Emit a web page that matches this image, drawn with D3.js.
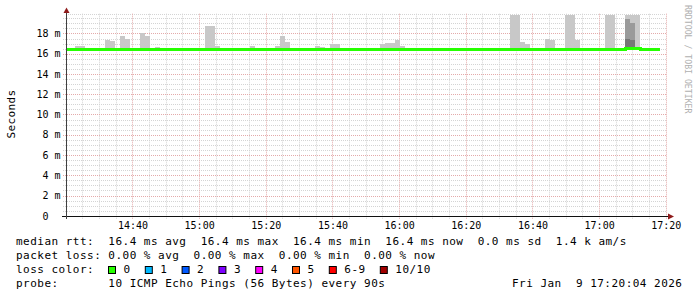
<!DOCTYPE html>
<html><head><meta charset="utf-8">
<script src="https://cdn.jsdelivr.net/npm/d3@7"></script>
<style>
html,body{margin:0;padding:0;background:#fff;}
svg{display:block;}
text{font-family:"DejaVu Sans Mono",monospace;white-space:pre;}
</style></head><body>
<svg id="chart" width="697" height="297"></svg>
<script>
// ---- data ----
const startTime = new Date(2026, 0, 9, 14, 20, 4);
const endTime = new Date(2026, 0, 9, 17, 20, 4);
const firstBin = new Date(2026, 0, 9, 14, 19, 46);
const stepSeconds = 90;

// median rtt per 90 s step (ms)
const median = [
  16.45,16.45,16.45,16.45,16.38,16.38,16.45,16.45,16.45,16.45,
  16.45,16.45,16.45,16.45,16.45,16.45,16.45,16.45,16.45,16.45,
  16.45,16.45,16.45,16.45,16.45,16.45,16.45,16.45,16.45,16.45,
  16.45,16.45,16.45,16.45,16.45,16.45,16.45,16.45,16.45,16.45,
  16.45,16.45,16.45,16.45,16.45,16.38,16.45,16.45,16.45,16.45,
  16.45,16.45,16.38,16.45,16.45,16.45,16.45,16.38,16.38,16.45,
  16.45,16.45,16.45,16.45,16.45,16.45,16.45,16.45,16.45,16.45,
  16.45,16.45,16.45,16.45,16.45,16.45,16.45,16.45,16.45,16.38,
  16.45,16.45,16.45,16.45,16.45,16.45,16.45,16.45,16.45,16.45,
  16.45,16.45,16.45,16.45,16.40,16.40,16.40,16.45,16.45,16.45,
  16.45,16.45,16.45,16.45,16.45,16.45,16.45,16.45,16.45,16.45,
  16.40,16.40,16.50,16.50,16.50,16.45,16.45,16.45,16.45
];
// highest ping per step (ms) - outer smoke
const pingMax = [
  16.5,16.5,16.75,16.75,16.5,16.5,16.55,16.55,17.35,17.25,
  16.6,17.75,17.45,16.5,16.5,18.05,17.75,16.5,16.7,16.55,
  16.5,16.5,16.5,16.5,16.6,16.5,16.5,16.5,18.75,18.75,
  16.8,16.5,16.5,16.5,16.5,16.5,16.55,16.8,16.6,16.5,
  16.5,16.5,16.8,17.7,17.2,16.5,16.5,16.5,16.5,16.5,
  16.8,16.7,16.5,16.95,16.95,16.6,16.5,16.5,16.5,16.5,
  16.5,16.5,16.5,16.95,17.05,17.05,17.35,16.8,16.5,16.5,
  16.5,16.5,16.6,16.6,16.55,16.6,16.5,16.5,16.5,16.5,
  16.5,16.5,16.5,16.5,16.5,16.5,16.5,16.5,16.5,19.8,
  19.8,17.2,17.0,16.5,16.5,16.5,17.5,17.4,16.5,16.5,
  19.8,19.8,17.4,16.5,16.5,16.5,16.5,16.5,19.8,19.8,
  16.5,16.5,19.8,19.8,19.8,16.5,16.5,16.5,16.5
];
// inner smoke bands (second and third highest pings) where visible
const innerBins = [112, 113];
const pingSecond = [19.4, 19.05];
const pingThird = [17.45, 17.35];

const yMajorTicks = [0, 2, 4, 6, 8, 10, 12, 14, 16, 18];
const lossLabels = ["0", "1", "2", "3", "4", "5", "6-9", "10/10"];
const lossColors = ["#26ff00", "#00b8ff", "#0059ff", "#7e00ff", "#ff00ff", "#ff5500", "#ff0000", "#a10000"];
const legendRtt = "median rtt:  16.4 ms avg  16.4 ms max  16.4 ms min  16.4 ms now  0.0 ms sd  1.4 k am/s";
const legendLoss = "packet loss: 0.00 % avg  0.00 % max  0.00 % min  0.00 % now";
const legendColorTitle = "loss color:";
const legendProbe = "probe:       10 ICMP Echo Pings (56 Bytes) every 90s";
const stampText = "Fri Jan  9 17:20:04 2026";
const yTitle = "Seconds";
const watermark = "RRDTOOL / TOBI OETIKER";

// ---- drawing ----
const svg = d3.select("#chart");
svg.append("rect").attr("width", 697).attr("height", 297).attr("fill", "#fff");

const x = d3.scaleTime().domain([startTime, endTime]).range([66, 666]);
const y = d3.scaleLinear().domain([0, 19.95]).range([215.8, 13.7]);
const binTime = k => new Date(firstBin.getTime() + k * stepSeconds * 1000);

const pLeft = 66, pRight = 666, pTop = y.range()[1], pBottom = 216;
const px = v => Math.round(v) + 0.5;
const minorColor = "#d4d4d4", majorColor = "#e4aaaa";

// grid
const grid = svg.append("g");
const hMinor = d3.range(0.5, 19.95, 0.5).filter(v => Math.abs(v / 2 - Math.round(v / 2)) > 1e-6);
grid.selectAll(".hmin").data(hMinor).enter().append("line")
  .attr("x1", pLeft - 3).attr("x2", pRight).attr("y1", d => px(y(d))).attr("y2", d => px(y(d)))
  .attr("stroke", minorColor).attr("stroke-dasharray", "1,1");
grid.append("line").attr("x1", pLeft).attr("x2", pRight).attr("y1", px(pTop)).attr("y2", px(pTop))
  .attr("stroke", minorColor).attr("stroke-dasharray", "1,1");
const vAll = d3.timeMinute.every(5).range(startTime, endTime);
const vMinor = vAll.filter(d => d.getMinutes() % 20 !== 0);
const vMajor = vAll.filter(d => d.getMinutes() % 20 === 0);
grid.selectAll(".vmin").data(vMinor).enter().append("line")
  .attr("x1", d => px(x(d))).attr("x2", d => px(x(d))).attr("y1", pTop).attr("y2", pBottom + 3)
  .attr("stroke", minorColor).attr("stroke-dasharray", "1,1");
grid.selectAll(".hmaj").data(yMajorTicks.filter(v => v > 0)).enter().append("line")
  .attr("x1", pLeft - 3).attr("x2", pRight).attr("y1", d => px(y(d))).attr("y2", d => px(y(d)))
  .attr("stroke", majorColor).attr("stroke-dasharray", "1,1");
grid.selectAll(".vmaj").data(vMajor).enter().append("line")
  .attr("x1", d => px(x(d))).attr("x2", d => px(x(d))).attr("y1", pTop).attr("y2", pBottom + 3)
  .attr("stroke", majorColor).attr("stroke-dasharray", "1,1");

// clip
svg.append("clipPath").attr("id", "plotclip").append("rect")
  .attr("x", pLeft + 0.5).attr("y", pTop).attr("width", pRight - pLeft).attr("height", pBottom - pTop);
const plot = svg.append("g").attr("clip-path", "url(#plotclip)");

// smoke (outer)
plot.selectAll(".smoke").data(pingMax).enter().append("rect")
  .attr("x", (d, k) => x(binTime(k)))
  .attr("width", (d, k) => x(binTime(k + 1)) - x(binTime(k)))
  .attr("y", d => y(d))
  .attr("height", (d, k) => Math.max(0, y(median[k]) - y(d)))
  .attr("fill", "#c8c8c8").attr("shape-rendering", "crispEdges");
// inner smoke bands
plot.selectAll(".smoke2").data(innerBins).enter().append("rect")
  .attr("x", k => x(binTime(k)))
  .attr("width", k => x(binTime(k + 1)) - x(binTime(k)))
  .attr("y", (k, i) => y(pingSecond[i]))
  .attr("height", (k, i) => y(pingThird[i]) - y(pingSecond[i]))
  .attr("fill", "#9a9a9a").attr("shape-rendering", "crispEdges");
plot.selectAll(".smoke3").data(innerBins).enter().append("rect")
  .attr("x", k => x(binTime(k)))
  .attr("width", k => x(binTime(k + 1)) - x(binTime(k)))
  .attr("y", (k, i) => y(pingThird[i]))
  .attr("height", (k, i) => y(median[k]) - y(pingThird[i]))
  .attr("fill", "#767676").attr("shape-rendering", "crispEdges");

// median line
const medPts = median.map((v, k) => [binTime(k), v]);
medPts.push([binTime(median.length), median[median.length - 1]]);
plot.append("path").datum(medPts)
  .attr("d", d3.line().x(d => x(d[0])).y(d => y(d[1])).curve(d3.curveStepAfter))
  .attr("fill", "none").attr("stroke", lossColors[0]).attr("stroke-width", 3)
  .attr("shape-rendering", "crispEdges");

// axes labels
const xAxis = svg.append("g").attr("transform", `translate(0,${pBottom})`)
  .call(d3.axisBottom(x).ticks(d3.timeMinute.every(20)).tickFormat(d3.timeFormat("%H:%M")).tickSize(0));
xAxis.select(".domain").remove();
xAxis.selectAll("text").attr("dy", null).attr("y", 12.5)
  .attr("font-family", "DejaVu Sans Mono").attr("font-size", 10).attr("fill", "#000");

const yAxis = svg.append("g").attr("transform", `translate(${pLeft},0)`)
  .call(d3.axisLeft(y).tickValues(yMajorTicks).tickFormat(v => v === 0 ? "0  " : v + " m").tickSize(0).tickPadding(5.5));
yAxis.select(".domain").remove();
yAxis.selectAll("text").attr("font-family", "DejaVu Sans Mono").attr("font-size", 10).attr("fill", "#000");

// axis lines + arrows
const axisColor = "#404040", arrowColor = "#8f1b1b";
svg.append("line").attr("x1", pLeft - 4).attr("x2", 669).attr("y1", pBottom + 0.5).attr("y2", pBottom + 0.5)
  .attr("stroke", "#111");
svg.append("line").attr("x1", pLeft + 0.5).attr("x2", pLeft + 0.5).attr("y1", pBottom + 3).attr("y2", 12)
  .attr("stroke", axisColor);
svg.append("path").attr("d", `M${pLeft - 2.5},13 L${pLeft + 0.5},7.5 L${pLeft + 3.5},13 Z`).attr("fill", arrowColor);
svg.append("path").attr("d", `M668,${pBottom - 2.5} L674,${pBottom + 0.5} L668,${pBottom + 3.5} Z`).attr("fill", arrowColor);

// titles
svg.append("text").attr("transform", "translate(14.5,114) rotate(-90)")
  .attr("text-anchor", "middle").attr("font-size", 11).attr("letter-spacing", 0.4).text(yTitle);
svg.append("text").attr("transform", "translate(685,5) rotate(90)")
  .attr("font-size", 8.2).attr("fill", "#b0b0b0").text(watermark);

// legend
const charW = 7.1;
const legend = svg.append("g").attr("font-size", 11).attr("letter-spacing", 0.48).attr("fill", "#000");
legend.append("text").attr("x", 16).attr("y", 244.5).text(legendRtt);
legend.append("text").attr("x", 16).attr("y", 258.7).text(legendLoss);
legend.append("text").attr("x", 16).attr("y", 272.8).text(legendColorTitle);
legend.append("text").attr("x", 16).attr("y", 287).text(legendProbe);
legend.append("text").attr("x", 512).attr("y", 287).text(stampText);

let bx = 108;
lossLabels.forEach((lab, i) => {
  legend.append("rect").attr("x", bx + 0.5).attr("y", 266.5).attr("width", 7).attr("height", 7)
    .attr("fill", lossColors[i]).attr("stroke", "#000");
  legend.append("text").attr("x", bx + 15.5).attr("y", 272.8).text(lab);
  bx = bx + 15.5 + (lab.length + 2) * charW;
});
</script>
</body></html>
